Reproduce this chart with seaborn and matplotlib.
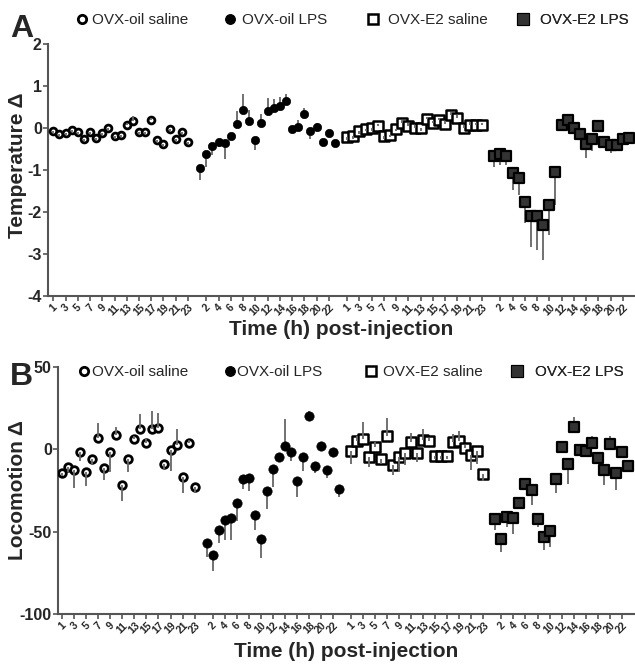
import matplotlib
matplotlib.use("Agg")
import numpy as np
import pandas as pd
import matplotlib.pyplot as plt
import seaborn as sns
from matplotlib.lines import Line2D

groups = ["OVX-oil saline", "OVX-oil LPS", "OVX-E2 saline", "OVX-E2 LPS"]
hours = list(range(1, 24))

# temperature change (panel A), one-sided SEM
temp_oil_sal = [-0.06, -0.14, -0.11, -0.05, -0.10, -0.25, -0.09, -0.23, -0.11, -0.01, -0.18, -0.17,
                0.06, 0.16, -0.10, -0.10, 0.20, -0.29, -0.37, -0.02, -0.26, -0.10, -0.33]
temp_oil_sal_err = [0.05, 0.05, 0.05, 0.04, 0.05, 0.05, 0.05, 0.05, 0.05, 0.05, 0.08, 0.05,
                    0.05, 0.13, 0.05, 0.05, 0.05, 0.05, 0.05, 0.05, 0.05, 0.05, 0.05]
temp_oil_lps = [-0.96, -0.63, -0.44, -0.33, -0.35, -0.18, 0.10, 0.42, 0.16, -0.28, 0.13, 0.41,
                0.48, 0.53, 0.65, -0.02, 0.03, 0.33, -0.06, 0.02, -0.33, -0.13, -0.35]
temp_oil_lps_err = [0.28, 0.30, 0.20, 0.12, 0.38, 0.05, 0.30, 0.38, 0.27, 0.25, 0.20, 0.30,
                    0.20, 0.20, 0.15, 0.10, 0.15, 0.15, 0.20, 0.10, 0.03, 0.05, 0.10]
temp_e2_sal = [-0.22, -0.19, -0.08, -0.02, -0.01, 0.04, -0.19, -0.16, -0.02, 0.12, 0.05, 0.01,
               -0.01, 0.21, 0.11, 0.19, 0.10, 0.31, 0.24, 0.01, 0.08, 0.06, 0.06]
temp_e2_sal_err = [0.06] * 23
temp_e2_lps = [-0.66, -0.61, -0.67, -1.08, -1.20, -1.75, -2.09, -2.09, -2.32, -1.84, -1.04, 0.06,
               0.19, -0.01, -0.15, -0.37, -0.25, 0.05, -0.33, -0.40, -0.40, -0.26, -0.23]
temp_e2_lps_err = [0.26, 0.26, 0.22, 0.40, 0.40, 0.50, 0.74, 0.81, 0.82, 0.70, 0.80, 0.06,
                   0.08, 0.04, 0.06, 0.35, 0.30, 0.15, 0.05, 0.20, 0.06, 0.06, 0.06]

# locomotion change (panel B)
loco_oil_sal = [-14.2, -11.0, -12.6, -1.8, -13.8, -5.7, 6.9, -11.4, -1.8, 8.9, -21.5, -5.9,
                6.3, 12.3, 4.0, 12.5, 13.1, -8.9, -0.4, 2.4, -17.0, 3.6, -22.7]
loco_oil_sal_err = [2, 3, 11, 5, 8.7, 3, 9, 7, 11.7, 4.8, 9.7, 7.6,
                    2, 9, 2, 11, 9, 3, 12.6, 9.7, 9.7, 2, 3]
loco_oil_lps = [-56.7, -64.0, -48.8, -42.9, -41.9, -32.8, -17.8, -17.4, -40.1, -54.7, -25.1, -11.9,
                -4.9, 2.2, -1.8, -19.0, -4.9, 20.2, -9.9, 2.2, -12.6, -1.4, -24.3]
loco_oil_lps_err = [8.5, 10, 8, 12, 13, 11, 6, 8, 9, 11.5, 11, 11,
                    2.5, 16, 5, 10, 8, 3, 4.5, 2, 5, 3, 4.5]
loco_e2_sal = [-0.9, 5.2, 6.3, -4.5, 1.6, -6.1, 8.1, -9.7, -4.9, -2.4, 4.2, -2.4,
               5.6, 5.0, -4.1, -4.1, -4.1, 4.4, 5.0, 0.6, -3.4, -0.9, -15.0]
loco_e2_sal_err = [8, 3, 10, 6, 3, 3, 11, 6, 9, 7, 6, 5,
                   7, 2, 2, 2, 2, 5, 6, 2, 9, 8, 4.5]
loco_e2_lps = [-42.5, -54.7, -40.9, -41.9, -32.8, -21.3, -24.7, -42.1, -53.0, -49.6, -18.0, 1.6,
               -9.1, 13.7, -0.2, -1.0, 3.6, -5.1, -12.6, 3.2, -14.2, -1.6, -10.1]
loco_e2_lps_err = [6.5, 7.5, 6, 9.7, 3, 3, 9, 5, 8, 10, 8.5, 2,
                   12, 5.7, 2, 2, 4.5, 1.4, 9, 4.8, 10.5, 2, 2]

# tick labels shown under each block of 24 h
tick_hours = [list(range(1, 24, 2)), list(range(2, 23, 2)),
              list(range(1, 24, 2)), list(range(2, 23, 2))]

styles = {
    "OVX-oil saline": dict(marker="o", color="white", edgecolor="black", lw=2.0, s=24, ms=6, err_z=4),
    "OVX-oil LPS": dict(marker="o", color="black", edgecolor="black", lw=0.5, s=36, ms=7, err_z=1),
    "OVX-E2 saline": dict(marker="s", color="white", edgecolor="black", lw=1.8, s=46, ms=7.5, err_z=4),
    "OVX-E2 LPS": dict(marker="s", color="#333333", edgecolor="black", lw=1.6, s=52, ms=8, err_z=1),
}


def long_table(vals, errs):
    rows = []
    for g, (v, e) in enumerate(zip(vals, errs)):
        for h, y, err in zip(hours, v, e):
            rows.append(dict(group=groups[g], hour=h, pos=24 * g + h - 1, value=y, err=err))
    return pd.DataFrame(rows)


temp = long_table([temp_oil_sal, temp_oil_lps, temp_e2_sal, temp_e2_lps],
                  [temp_oil_sal_err, temp_oil_lps_err, temp_e2_sal_err, temp_e2_lps_err])
loco = long_table([loco_oil_sal, loco_oil_lps, loco_e2_sal, loco_e2_lps],
                  [loco_oil_sal_err, loco_oil_lps_err, loco_e2_sal_err, loco_e2_lps_err])

sns.set_style("white")
plt.rcParams["font.family"] = ["Liberation Sans", "DejaVu Sans"]

W, H = 635, 667
fig = plt.figure(figsize=(W / 100, H / 100), dpi=100)
ax_a = fig.add_axes([48 / W, 1 - 296 / H, (W - 48) / W, 252 / H])
ax_b = fig.add_axes([58 / W, 1 - 614 / H, (W - 58) / W, 247 / H])


def draw_panel(ax, df, ylim, yticks, ylabel, xlim, circ_scale):
    for g in groups:
        st = styles[g]
        d = df[df.group == g]
        sgn = np.where(d.value >= 0, 1, -1)
        ax.vlines(d.pos, d.value, d.value + sgn * d.err, color="#666666", lw=1.3, zorder=st["err_z"])
        s = st["s"] * (circ_scale if st["marker"] == "o" else 1.0)
        sns.scatterplot(data=d, x="pos", y="value", marker=st["marker"], s=s,
                        color=st["color"], edgecolor=st["edgecolor"], linewidth=st["lw"],
                        ax=ax, zorder=3, legend=False)
    ticks, labels = [], []
    for g, hs in enumerate(tick_hours):
        for h in hs:
            ticks.append(24 * g + h - 1)
            labels.append(str(h))
    ax.set_xticks(ticks)
    ax.set_xticklabels(labels, rotation=45, fontsize=7.5, fontweight="bold")
    ax.set_yticks(yticks)
    ax.set_yticklabels([str(t) for t in yticks], fontsize=11.5, fontweight="bold")
    ax.set_xlim(*xlim)
    ax.set_ylim(*ylim)
    sns.despine(ax=ax)
    for sp in ["left", "bottom"]:
        ax.spines[sp].set_color("#555555")
        ax.spines[sp].set_linewidth(1.5)
    ax.tick_params(axis="both", direction="out", length=3.5, width=1.2, color="#555555",
                   bottom=True, left=True, pad=1)
    ax.set_ylabel(ylabel, fontsize=15, fontweight="bold")
    ax.set_xlabel("Time (h) post-injection", fontsize=15, fontweight="bold")


draw_panel(ax_a, temp, (-4, 2), [-4, -3, -2, -1, 0, 1, 2], "Temperature \u0394", (-0.86, 95), 1.0)
draw_panel(ax_b, loco, (-100, 50), [-100, -50, 0, 50], "Locomotion \u0394", (-0.7, 95.2), 1.25)

ax_a.yaxis.set_label_coords(-0.036, 0.52)
ax_b.yaxis.set_label_coords(-0.054, 0.5)
ax_a.xaxis.set_label_coords(0.5, -0.095)
ax_b.xaxis.set_label_coords(0.5, -0.113)

fig.text(10 / W, 1 - 37 / H, "A", fontsize=23, fontweight="bold", va="baseline")
fig.text(10 / W, 1 - 385 / H, "B", fontsize=23, fontweight="bold", va="baseline")

# legends: one entry each, placed by pixel position (marker centre, text start, row y)
fs_pt = 11
fs_px = fs_pt * 100 / 72
hl_px = 9.0


def legend_entry(ax, g, mx, tx, py):
    st = styles[g]
    h = Line2D([], [], ls="none", marker=st["marker"], markersize=st["ms"],
               markerfacecolor=st["color"], markeredgecolor=st["edgecolor"],
               markeredgewidth=st["lw"] if st["color"] == "white" else 0.8)
    leg = ax.legend(handles=[h], labels=[g], loc="center left",
                    bbox_to_anchor=((mx - hl_px / 2) / W, 1 - py / H),
                    bbox_transform=fig.transFigure, frameon=False, fontsize=fs_pt,
                    handlelength=hl_px / fs_px, handletextpad=(tx - mx - hl_px / 2) / fs_px,
                    borderpad=0, borderaxespad=0)
    ax.add_artist(leg)


for g, mx, tx in zip(groups, [82, 230, 373, 523], [92, 242, 388, 540]):
    legend_entry(ax_a, g, mx, tx, 20)
for g, mx, tx in zip(groups, [84, 230, 371, 517], [92, 237, 383, 535]):
    legend_entry(ax_b, g, mx, tx, 372)

fig.savefig("out.png", dpi=100)
